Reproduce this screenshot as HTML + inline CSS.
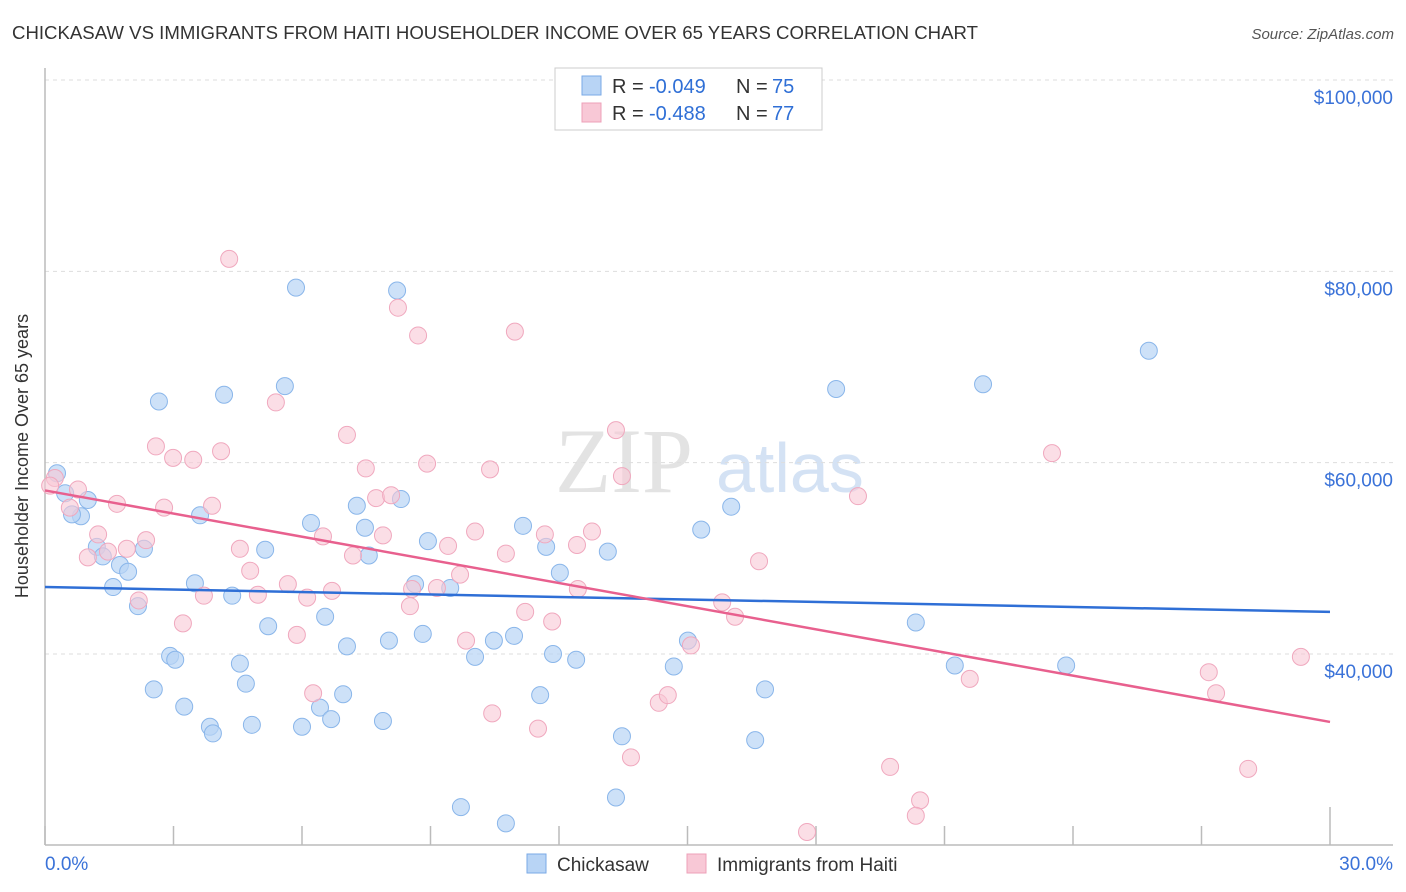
<!DOCTYPE html>
<html><head><meta charset="utf-8"><style>
body{margin:0;background:#fff;font-family:"Liberation Sans",sans-serif}
svg{display:block}
</style></head><body>
<svg id="chart" width="1406" height="892" xmlns="http://www.w3.org/2000/svg">
<text x="12" y="39" font-size="18" fill="#333" textLength="966" lengthAdjust="spacingAndGlyphs">CHICKASAW VS IMMIGRANTS FROM HAITI HOUSEHOLDER INCOME OVER 65 YEARS CORRELATION CHART</text>
<text x="1394" y="39" font-size="15" fill="#555" font-style="italic" text-anchor="end">Source: ZipAtlas.com</text>
<g>
<text x="555" y="492" font-size="92" font-family="Liberation Serif,serif" fill="#d8d8d8" opacity="0.7">ZIP</text>
<text x="716" y="492" font-size="70" fill="#b8d0ee" opacity="0.6">atlas</text>
</g>
<g id="grid"></g>
<g id="axes"></g>
<g id="pts"></g>
<g id="trends"></g>
<text x="28" y="456" font-size="18" fill="#333" text-anchor="middle" transform="rotate(-90 28 456)">Householder Income Over 65 years</text>
<g>
<rect x="555" y="68" width="267" height="62" fill="#fff" stroke="#ccc"/>
<rect x="582" y="76" width="19" height="19" fill="#b8d4f5" stroke="#7aaae6"/>
<rect x="582" y="103" width="19" height="19" fill="#f8c8d6" stroke="#eea0b8"/>
<text x="612" y="93" font-size="20" fill="#333">R = </text>
<text x="649" y="93" font-size="20" fill="#2f6fd6">-0.049</text>
<text x="736" y="93" font-size="20" fill="#333">N = </text>
<text x="772" y="93" font-size="20" fill="#2f6fd6">75</text>
<text x="612" y="120" font-size="20" fill="#333">R = </text>
<text x="649" y="120" font-size="20" fill="#2f6fd6">-0.488</text>
<text x="736" y="120" font-size="20" fill="#333">N = </text>
<text x="772" y="120" font-size="20" fill="#2f6fd6">77</text>
</g>
<g>
<rect x="527" y="854" width="19" height="19" fill="#b8d4f5" stroke="#7aaae6"/>
<text x="557" y="871" font-size="19" fill="#333">Chickasaw</text>
<rect x="687" y="854" width="19" height="19" fill="#f8c8d6" stroke="#eea0b8"/>
<text x="717" y="871" font-size="19" fill="#333">Immigrants from Haiti</text>
</g>
</svg>
<script>
const yTicks=[40,60,80,100];
const yTickLabels=["$40,000","$60,000","$80,000","$100,000"];
const xTicks=[0,3,6,9,12,15,18,21,24,27,30];
const blueX=[0.28,0.47,1.00,0.84,0.63,1.21,1.35,1.75,1.94,1.59,2.31,2.17,2.66,4.18,5.60,5.86,8.22,3.62,5.14,3.50,4.37,2.92,3.04,2.54,3.25,4.55,4.69,3.85,3.92,4.83,5.21,6.21,6.54,6.42,6.00,6.68,7.05,6.96,7.28,7.47,7.56,8.31,8.03,7.89,8.64,8.94,8.82,9.46,10.04,10.48,10.95,11.16,11.70,12.02,11.86,12.40,11.56,13.14,13.47,13.33,9.71,10.76,15.32,16.02,14.68,15.01,16.81,16.58,18.47,20.33,21.90,21.24,23.84,25.77];
const blueY=[58.9,56.8,56.1,54.4,54.6,51.2,50.2,49.3,48.6,47.0,51.0,45.0,66.4,67.1,68.0,78.3,78.0,54.5,50.9,47.4,46.1,39.8,39.4,36.3,34.5,39.0,36.9,32.4,31.7,32.6,42.9,53.7,43.9,34.4,32.4,33.2,40.8,35.8,55.5,53.2,50.3,56.2,41.4,33.0,47.3,51.8,42.1,46.9,39.7,41.4,41.9,53.4,51.2,48.5,40.0,39.4,35.7,50.7,31.4,25.0,24.0,22.3,53.0,55.4,38.7,41.4,36.3,31.0,67.7,43.3,68.2,38.8,38.8,71.7];
const pinkX=[4.30,8.24,8.71,10.97,5.39,2.59,2.99,3.46,4.11,7.05,7.49,8.92,10.39,13.33,13.47,23.51,18.98,0.23,0.12,0.77,0.58,1.68,1.24,1.00,1.47,1.91,2.36,2.78,3.90,4.55,4.79,4.97,5.67,6.12,5.88,3.22,2.19,3.71,6.49,6.70,7.19,7.73,8.08,7.89,8.52,8.57,9.15,9.41,9.69,10.04,10.76,11.21,11.67,11.84,12.42,12.77,12.44,9.83,10.44,11.51,6.26,14.33,14.54,13.68,15.81,16.11,15.08,16.67,21.59,27.17,27.34,29.32,19.73,20.43,20.33,17.79,28.09];
const pinkY=[81.3,76.2,73.3,73.7,66.3,61.7,60.5,60.3,61.2,62.9,59.4,59.9,59.3,63.4,58.6,61.0,56.5,58.4,57.6,57.2,55.3,55.7,52.5,50.1,50.7,51.0,51.9,55.3,55.5,51.0,48.7,46.2,47.3,45.9,42.0,43.2,45.6,46.1,52.3,46.6,50.3,56.3,56.6,52.4,45.0,46.8,46.9,51.3,48.3,52.8,50.5,44.4,52.5,43.4,51.4,52.8,46.8,41.4,33.8,32.2,35.9,34.9,35.7,29.2,45.4,43.9,40.9,49.7,37.4,38.1,35.9,39.7,28.2,24.7,23.1,21.4,28.0];
const blueTrend=[47.0,44.4];
const pinkTrend=[57.1,32.9];
const NS="http://www.w3.org/2000/svg";
const xs=v=>45+v/30*1285;
const ys=v=>80+(100-v)*9.567;
function mk(tag,attrs,parent){const e=document.createElementNS(NS,tag);for(const k in attrs)e.setAttribute(k,attrs[k]);parent.appendChild(e);return e;}
const grid=document.getElementById('grid'),axes=document.getElementById('axes'),pts=document.getElementById('pts'),tr=document.getElementById('trends');
yTicks.forEach((t,i)=>{
 const l=mk('line',{x1:45,x2:1393,y1:ys(t),y2:ys(t),stroke:'#ddd','stroke-dasharray':'4,4'},grid);
 
 
 const tx=mk('text',{x:1393,y:ys(t)+24,'font-size':19,fill:'#3a72d8','text-anchor':'end'},axes);
 tx.textContent=yTickLabels[i];
 
 
});
const ya=mk('line',{x1:45,x2:45,y1:68,y2:845,stroke:'#bbb','stroke-width':1.5},axes);


const xa=mk('line',{x1:45,x2:1393,y1:845,y2:845,stroke:'#bbb','stroke-width':1.5},axes);


xTicks.forEach((t,i)=>{
 const tk=mk('line',{x1:xs(t),x2:xs(t),y1:(i==xTicks.length-1?807:826),y2:845,stroke:'#bbb','stroke-width':1.5},axes);
 
 
});
[[0,'0.0%','start',45],[30,'30.0%','end',1393]].forEach(a=>{
 const tx=mk('text',{x:a[3],y:870,'font-size':19,fill:'#3a72d8','text-anchor':a[2]},axes);
 tx.textContent=a[1];
 
 
});
blueX.forEach((x,i)=>{
 const c=mk('circle',{cx:xs(x),cy:ys(blueY[i]),r:8.5,fill:'#b8d4f5','fill-opacity':0.7,stroke:'#8ab6ea','stroke-width':1},pts);
 
 
});
pinkX.forEach((x,i)=>{
 const c=mk('circle',{cx:xs(x),cy:ys(pinkY[i]),r:8.5,fill:'#f8c8d6','fill-opacity':0.6,stroke:'#f0a8be','stroke-width':1},pts);
 
 
});
const bt=mk('line',{x1:xs(0),x2:xs(30),y1:ys(blueTrend[0]),y2:ys(blueTrend[1]),stroke:'#2f6fd6','stroke-width':2.5},tr);


const pt=mk('line',{x1:xs(0),x2:xs(30),y1:ys(pinkTrend[0]),y2:ys(pinkTrend[1]),stroke:'#e8608e','stroke-width':2.5},tr);


</script>
</body></html>
